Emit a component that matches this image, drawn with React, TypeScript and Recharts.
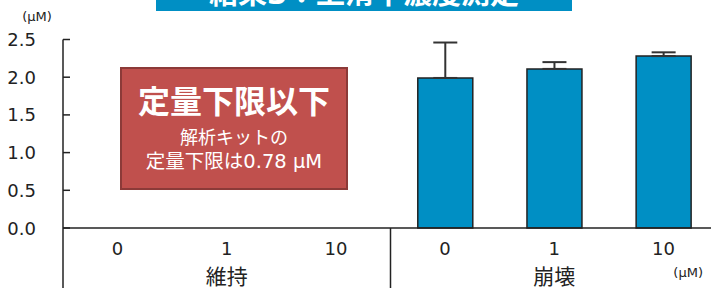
import React from 'react';
import { BarChart, Bar, XAxis, YAxis, ErrorBar } from 'recharts';

// values (μM); 維持 group is below the kit's LOQ
const groups = ['維持', '崩壊'];
const doses = ['0', '1', '10'];
const means: (number | null)[] = [null, null, null, 1.99, 2.11, 2.28];
const sdPlus: (number | null)[] = [null, null, null, 0.47, 0.09, 0.05];
const yTicks = [0, 0.5, 1.0, 1.5, 2.0, 2.5];

const data = means.map((v, i) => ({
  key: `${groups[Math.floor(i / doses.length)]}-${doses[i % doses.length]}`,
  value: v,
  err: sdPlus[i] == null ? null : [0, sdPlus[i]],
}));

const FONT = "'DejaVu Sans', 'Noto Sans CJK JP', sans-serif";
const INK = '#222';
const CHART_W = 730;
const PLOT_W = 655;

const YTick = (props: any) => {
  const { x, y, payload } = props;
  return (
    <g>
      <text x={x} y={y} textAnchor="end" dominantBaseline="central" fontSize={18} fill={INK} fontFamily={FONT}>
        {payload.value.toFixed(1)}
      </text>
      <line x1={x + 27} x2={x + 34} y1={y} y2={y} stroke={INK} strokeWidth={1.5} />
    </g>
  );
};

const XTick = (props: any) => {
  const { x, y, index } = props;
  const n = data.length;
  const band = (typeof props.width === 'number' ? props.width : PLOT_W) / n;
  const pos = index % doses.length;
  return (
    <g>
      <text x={x} y={y + 27} textAnchor="middle" fontSize={18} fill={INK} fontFamily={FONT}>
        {doses[pos]}
      </text>
      {pos === 0 && (
        <line x1={x - band / 2} x2={x - band / 2} y1={y} y2={y + 60} stroke={INK} strokeWidth={1.5} />
      )}
      {pos === 1 && (
        <text x={x} y={y + 56} textAnchor="middle" fontSize={21} fill={INK} fontFamily={FONT}>
          {groups[Math.floor(index / doses.length)]}
        </text>
      )}
      {index === n - 1 && (
        <text x={x + band / 2 - 15} y={y + 49} textAnchor="end" fontSize={13} fill={INK} fontFamily={FONT}>
          (μM)
        </text>
      )}
    </g>
  );
};

export default function App() {
  return (
    <div style={{ position: 'absolute', left: 0, top: 0, width: 711, height: 288, overflow: 'hidden', background: '#fff' }}>
      {/* title banner, cut off at the top in the source */}
      <div style={{
        position: 'absolute', left: 156, top: 0, width: 416, height: 11,
        background: '#008FC4', overflow: 'hidden', zIndex: 2,
      }}>
        <div style={{
          position: 'absolute', left: 0, width: '100%', bottom: 2, textAlign: 'center',
          color: '#fff', fontWeight: 700, fontSize: 29, lineHeight: '29px', fontFamily: FONT,
        }}>
          結果3：上清中濃度測定
        </div>
      </div>

      <BarChart
        width={CHART_W}
        height={288}
        data={data}
        margin={{ top: 39.5, right: 12, bottom: 0, left: 0 }}
        barCategoryGap="25%"
        style={{ position: 'absolute', left: 0, top: 0 }}
      >
        <XAxis
          dataKey="key"
          interval={0}
          height={60}
          tickLine={false}
          tickSize={0}
          tickMargin={0}
          axisLine={{ stroke: INK, strokeWidth: 1.5 }}
          tick={XTick}
        />
        <YAxis
          domain={[0, 2.5]}
          ticks={yTicks}
          width={63}
          tickLine={false}
          tickSize={0}
          tickMargin={27}
          axisLine={{ stroke: INK, strokeWidth: 1.5 }}
          tick={YTick}
          label={{
            content: () => (
              <text x={37} y={21} textAnchor="middle" fontSize={13} fill={INK} fontFamily={FONT}>(μM)</text>
            ),
          }}
        />
        <Bar dataKey="value" fill="#008FC4" stroke={INK} strokeWidth={1.5} isAnimationActive={false}>
          <ErrorBar dataKey="err" direction="y" width={12} stroke="#333" strokeWidth={2} />
        </Bar>
      </BarChart>

      {/* LOQ callout over the 維持 group */}
      <div style={{
        position: 'absolute', left: 120, top: 67, width: 228, height: 123, boxSizing: 'border-box',
        background: '#C0504D', border: '2px solid #8C3A38', color: '#fff', fontFamily: FONT,
        textAlign: 'center', zIndex: 3,
      }}>
        <div style={{ marginTop: 15, fontSize: 32, fontWeight: 700, lineHeight: '36px' }}>定量下限以下</div>
        <div style={{ marginTop: 6, fontSize: 18, lineHeight: '24px' }}>解析キットの</div>
        <div style={{ fontSize: 19.5, lineHeight: '24px' }}>定量下限は0.78 μM</div>
      </div>
    </div>
  );
}
